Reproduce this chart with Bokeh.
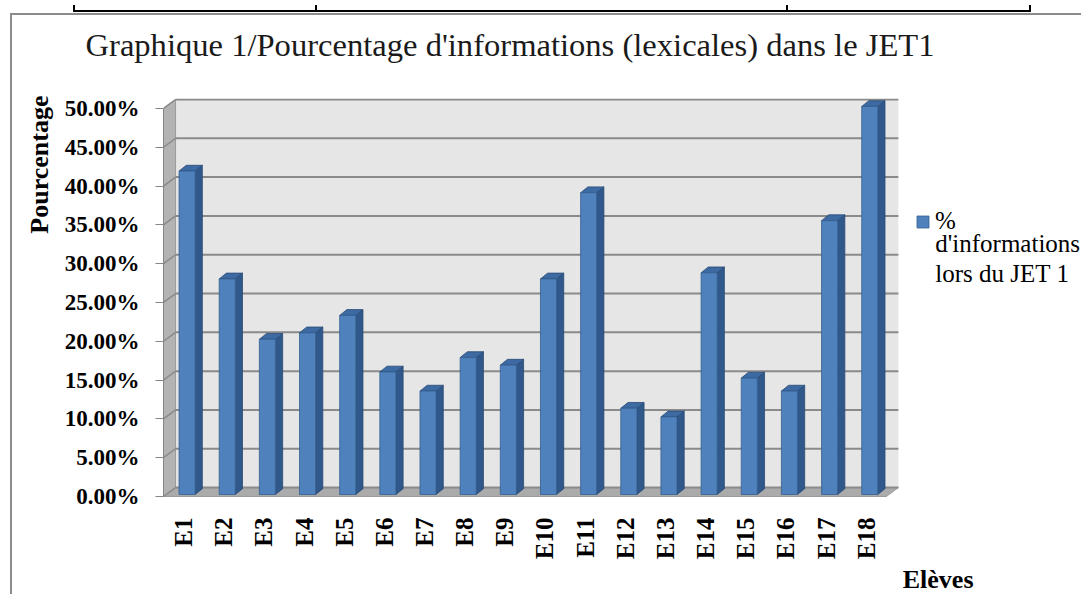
import math
from bokeh.plotting import figure
from bokeh.models import (FixedTicker, NumeralTickFormatter, Legend, LegendItem,
                          Label, Range1d, Title, Div)
from bokeh.layouts import column
from bokeh.embed import file_html
from bokeh.resources import INLINE

# ---------------- data ----------------
categories = ["E1", "E2", "E3", "E4", "E5", "E6", "E7", "E8", "E9",
              "E10", "E11", "E12", "E13", "E14", "E15", "E16", "E17", "E18"]
percentages = [0.4167, 0.2778, 0.2000, 0.2083, 0.2308, 0.1579, 0.1333, 0.1765, 0.1667,
               0.2778, 0.3889, 0.1111, 0.1000, 0.2857, 0.1500, 0.1333, 0.3529, 0.5000]
y_ticks = [0.0, 0.05, 0.10, 0.15, 0.20, 0.25, 0.30, 0.35, 0.40, 0.45, 0.50]
title_text = "Graphique 1/Pourcentage d'informations (lexicales) dans le JET1"
y_title = "Pourcentage"
x_title = "Elèves"
legend_lines = ["%", "d'informations", "lors du JET 1"]

# ---------------- 3D look parameters (style) ----------------
DX, DY = 0.30, 0.0115          # wall depth in data units
A = 0.22                        # bar depth position
XOFF = 0.087
FW = 0.40                       # front face width
BX, BY = 0.18, 0.0075           # bar depth
FONT = "Liberation Serif"

xs = list(range(1, len(categories) + 1))
x0, x1 = 0.5, len(categories) + 0.5
ymax = y_ticks[-1]

p = figure(width=1071, height=581, output_backend="svg", toolbar_location=None,
           x_range=Range1d(x0, 23.41), y_range=Range1d(-0.0013, 0.5128),
           min_border_left=151, min_border_right=0, min_border_top=83, min_border_bottom=99)
p.margin = (4, 0, 0, 10)
p.styles = {"border-left": "2px solid #8c8c8c", "border-top": "2px solid #8c8c8c"}
p.outline_line_color = None
p.xgrid.visible = False
p.ygrid.visible = False
p.background_fill_color = "white"

# walls
p.quad(left=[x0 + DX], right=[x1 + DX], bottom=[DY], top=[ymax + DY],
       fill_color="#e6e6e6", line_color=None)
p.patch([x0, x0 + DX, x0 + DX, x0], [0, DY, ymax + DY, ymax],
        fill_color="#b3b3b3", line_color="#9a9a9a", line_width=1)
p.patch([x0, x1, x1 + DX, x0 + DX], [0, 0, DY, DY],
        fill_color="#ababab", line_color="#9a9a9a", line_width=1)

# gridlines on back wall and side wall
p.segment(x0=[x0 + DX] * len(y_ticks), y0=[t + DY for t in y_ticks],
          x1=[x1 + DX] * len(y_ticks), y1=[t + DY for t in y_ticks],
          line_color="#8a8a8a", line_width=2)
p.segment(x0=[x0] * len(y_ticks), y0=y_ticks,
          x1=[x0 + DX] * len(y_ticks), y1=[t + DY for t in y_ticks],
          line_color="#8a8a8a", line_width=1.5)

# bars
lefts = [x + XOFF - FW / 2 for x in xs]
rights = [x + XOFF + FW / 2 for x in xs]
bottoms = [A * DY] * len(xs)
tops = [v + A * DY for v in percentages]

side_x = [[r, r + BX, r + BX, r] for r in rights]
side_y = [[b, b + BY, t + BY, t] for b, t in zip(bottoms, tops)]
p.patches(side_x, side_y, fill_color="#30588a", line_color="#284a75", line_width=0.8)

top_x = [[l, r, r + BX, l + BX] for l, r in zip(lefts, rights)]
top_y = [[t, t, t + BY, t + BY] for t in tops]
p.patches(top_x, top_y, fill_color="#3d6aa2", line_color="#284a75", line_width=0.8)

front = p.quad(left=lefts, right=rights, bottom=bottoms, top=tops,
               fill_color="#4f81bd", line_color="#35608f", line_width=0.8)

# axes
yax = p.yaxis[0]
yax.ticker = FixedTicker(ticks=y_ticks)
yax.formatter = NumeralTickFormatter(format="0.00%")
yax.bounds = (0, ymax)
yax.major_label_text_font = FONT
yax.major_label_text_font_style = "bold"
yax.major_label_text_font_size = "23px"
yax.major_label_text_color = "black"
yax.major_tick_out = 8
yax.major_tick_in = 0
yax.minor_tick_line_color = None
yax.axis_line_color = "#868686"
yax.major_tick_line_color = "#868686"
yax.major_label_standoff = 16

xax = p.xaxis[0]
xax.ticker = FixedTicker(ticks=xs)
xax.major_label_overrides = {x: c for x, c in zip(xs, categories)}
xax.major_label_orientation = math.pi / 2
xax.major_label_text_font = FONT
xax.major_label_text_font_style = "bold"
xax.major_label_text_font_size = "25px"
xax.major_label_text_color = "black"
xax.axis_line_color = None
xax.major_tick_line_color = None
xax.minor_tick_line_color = None
xax.major_label_standoff = 14

# title (with an empty spacer title between it and the plot area)
p.add_layout(Title(text=" ", text_font_size="10px", standoff=23), "above")
p.title.text = title_text
p.title.text_font = FONT
p.title.text_font_style = "normal"
p.title.text_font_size = "32.6px"
p.title.text_color = "#1a1a1a"
p.title.align = "left"
p.title.offset = -78
p.title.standoff = 0

# axis titles
p.add_layout(Title(text=y_title, align="right", offset=-3, standoff=16,
                   text_font=FONT, text_font_style="bold", text_font_size="26px",
                   text_color="black"), "left")
p.add_layout(Title(text=x_title, align="right", offset=110, standoff=0,
                   text_font=FONT, text_font_style="bold", text_font_size="26px",
                   text_color="black"), "below")

# legend
legend = Legend(items=[LegendItem(label=legend_lines[0], renderers=[front])],
                location=(752, 262), margin=0, padding=0, border_line_color=None,
                background_fill_alpha=0, glyph_width=15, glyph_height=15,
                label_height=15, label_standoff=5, label_text_font=FONT,
                label_text_font_size="25px", label_text_color="black")
p.add_layout(legend, "center")
p.add_layout(Label(x=19.72, y=0.3256, text=legend_lines[1], text_align="left",
                   text_baseline="middle", text_font=FONT, text_font_size="25px",
                   text_color="black"))
p.add_layout(Label(x=19.72, y=0.287, text=legend_lines[2], text_align="left",
                   text_baseline="middle", text_font=FONT, text_font_size="25px",
                   text_color="black"))

# remnant of the document table above the chart
table_html = ('<div style="position:relative;width:958px;height:7px;'
              'border-left:2px solid #000;border-right:2px solid #000;'
              'border-bottom:2px solid #000;">'
              '<div style="position:absolute;left:240px;top:0;width:2px;height:7px;background:#000;"></div>'
              '<div style="position:absolute;left:711px;top:0;width:2px;height:7px;background:#000;"></div>'
              '</div>')
top_table = Div(text=table_html, width=962, height=9, margin=(0, 0, 0, 73))

layout = column(top_table, p, spacing=0)
open("out.html", "w").write(file_html(layout, INLINE))
